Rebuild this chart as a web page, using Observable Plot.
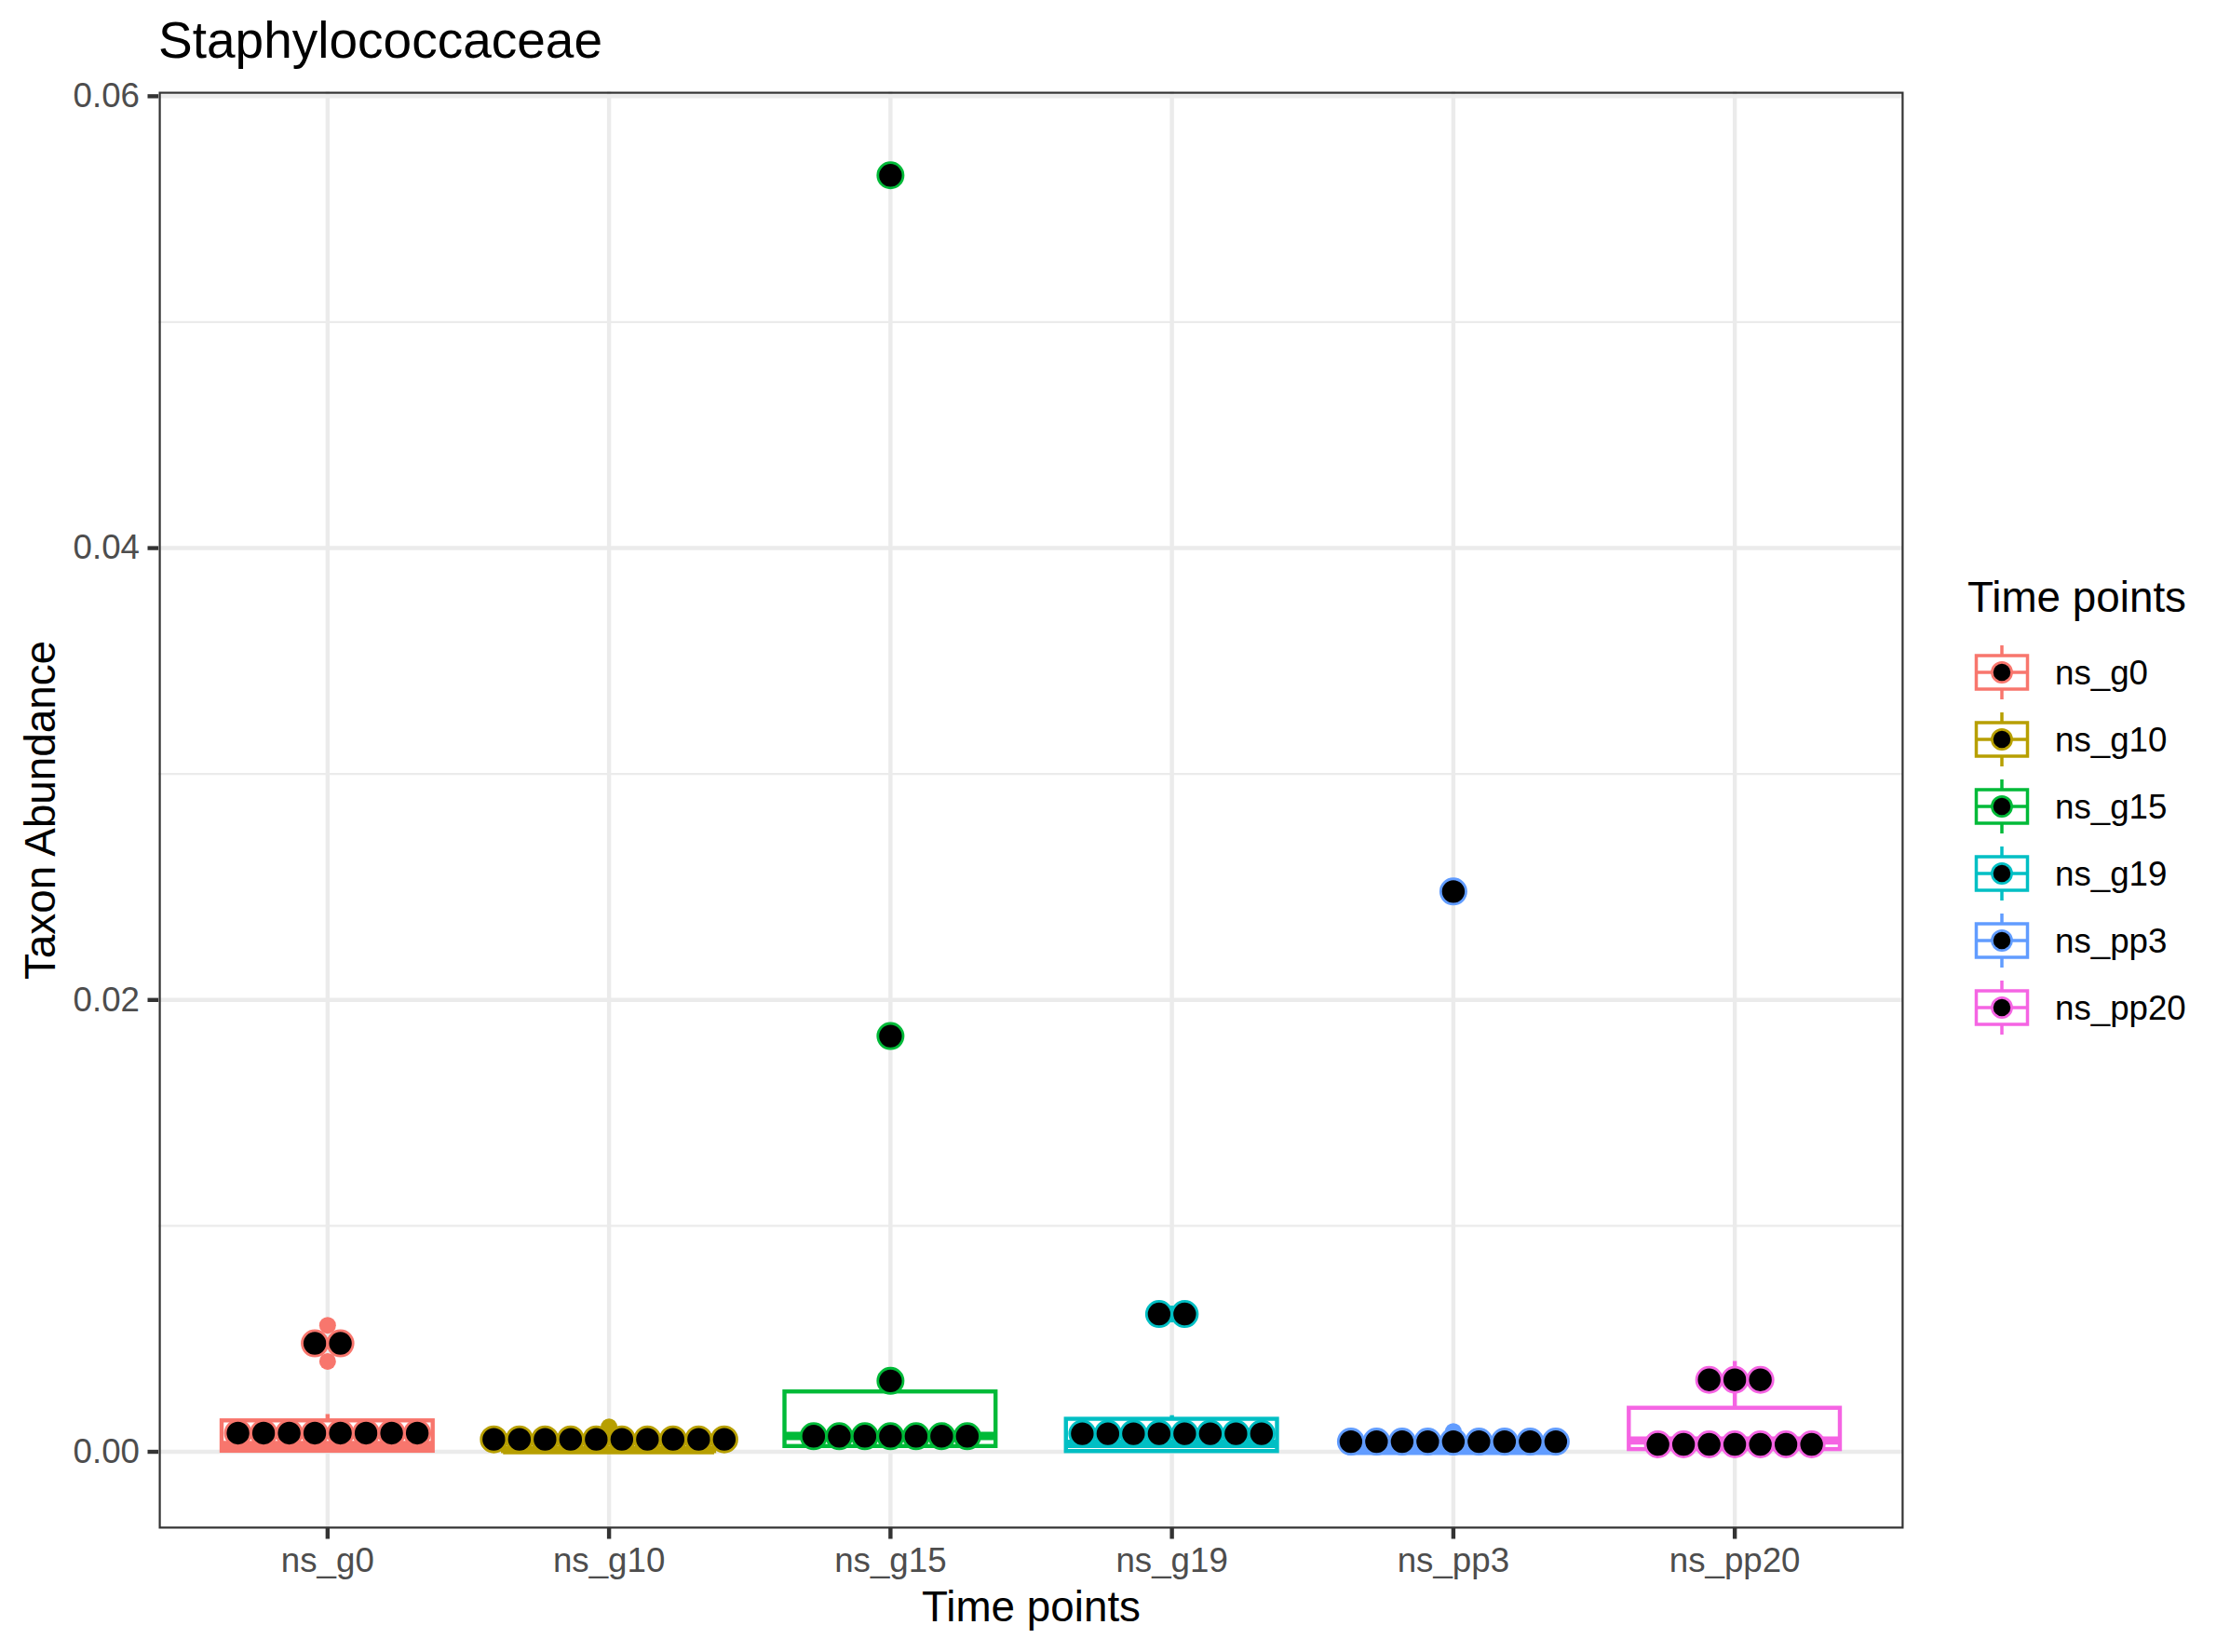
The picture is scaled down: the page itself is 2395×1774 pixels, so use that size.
<!DOCTYPE html>
<html><head><meta charset="utf-8">
<script src="https://cdn.jsdelivr.net/npm/d3@7"></script>
<script src="https://cdn.jsdelivr.net/npm/@observablehq/plot@0.6"></script>
<style>
html,body{margin:0;padding:0;background:#fff;}
#wrap{position:relative;width:2395px;height:1774px;font-family:"Liberation Sans",Arial,Helvetica,sans-serif;background:#fff;overflow:hidden;}
#plot{position:absolute;left:0;top:0;}
#title{position:absolute;left:170px;top:16px;font-size:55px;line-height:1;color:#000;white-space:nowrap;}
#legend{position:absolute;left:2100px;top:560px;}
</style></head><body>
<div id="wrap"><div id="plot"></div><div id="title"></div><div id="legend"></div></div>
<script>
// ---- data ----
const categories = ["ns_g0", "ns_g10", "ns_g15", "ns_g19", "ns_pp3", "ns_pp20"];
const colors = ["#F8766D", "#B79F00", "#00BA38", "#00BFC4", "#619CFF", "#F564E3"];
const ns_g0   = [0, 0, 0.00002, 0.00005, 0.0002, 0.0004, 0.00053, 0.00165, 0.0040, 0.0056];
const ns_g10  = [0, 0, 0.00001, 0.00002, 0.00005, 0.0001, 0.0002, 0.0004, 0.0006, 0.0011];
const ns_g15  = [0.0002, 0.00022, 0.00023, 0.00025, 0.0006, 0.0008, 0.00118, 0.00314, 0.0184, 0.0565];
const ns_g19  = [0, 0, 0.00001, 0.00002, 0.0002, 0.0005, 0.00096, 0.0016, 0.0061, 0.0061];
const ns_pp3  = [0, 0, 0.00001, 0.00002, 0.00003, 0.00005, 0.0001, 0.0003, 0.0009, 0.0248];
const ns_pp20 = [0.00006, 0.00008, 0.0001, 0.0001, 0.00045, 0.00055, 0.0006, 0.00237, 0.0032, 0.0040];
const seriesValues = [ns_g0, ns_g10, ns_g15, ns_g19, ns_pp3, ns_pp20];
const yTicks = [0, 0.02, 0.04, 0.06];
const yMinorTicks = [0.01, 0.03, 0.05];
const titleText = "Staphylococcaceae";
const xTitle = "Time points";
const yTitle = "Taxon Abundance";
const legendTitle = "Time points";

// ---- layout ----
const W = 2090, H = 1774, ML = 170, MR = 46, MT = 98, MB = 133;
const pxPerUnit = (W - ML - MR) / 6.2;
const boxHalf = 0.375;
const dotSpacing = 27.5 / pxPerUnit;

// ---- boxplot statistics ----
const sortedSeries = seriesValues.map(v => v.slice().sort(d3.ascending));
const stats = categories.map((g, i) => {
  const v = sortedSeries[i];
  const q1 = d3.quantileSorted(v, 0.25), med = d3.quantileSorted(v, 0.5), q3 = d3.quantileSorted(v, 0.75);
  const iqr = q3 - q1;
  const inside = v.filter(d => d >= q1 - 1.5 * iqr && d <= q3 + 1.5 * iqr);
  return {group: g, i, q1, med, q3, lo: d3.min(inside), hi: d3.max(inside), lf: q1 - 1.5 * iqr, hf: q3 + 1.5 * iqr};
});
const outliers = [];
categories.forEach((g, i) => {
  const s = stats[i];
  sortedSeries[i].forEach(value => { if (value < s.lf || value > s.hf) outliers.push({group: g, i, value}); });
});

// ---- dot-density binning (ggplot geom_dotplot style) ----
const allVals = seriesValues.flat();
const binwidth = (d3.max(allVals) - d3.min(allVals)) / 30;
const dots = [];
categories.forEach((g, i) => {
  const v = sortedSeries[i];
  let j = 0;
  while (j < v.length) {
    const start = v[j];
    let k = j;
    while (k < v.length && v[k] <= start + binwidth + 1e-12) k++;
    const bin = v.slice(j, k);
    const center = (bin[0] + bin[bin.length - 1]) / 2;
    bin.forEach((_, m) => dots.push({group: g, i, y: center, x: i + (m - (bin.length - 1) / 2) * dotSpacing}));
    j = k;
  }
});

const font = '"Liberation Sans", Arial, Helvetica, sans-serif';
const plot = Plot.plot({
  width: W, height: H,
  marginLeft: ML, marginRight: MR, marginTop: MT, marginBottom: MB,
  style: {fontFamily: font, background: "transparent", overflow: "visible"},
  x: {type: "linear", domain: [-0.6, categories.length - 0.4]},
  y: {type: "linear", domain: [-0.0034, 0.0602]},
  color: {type: "ordinal", domain: categories, range: colors},
  marks: [
    Plot.gridY(yMinorTicks, {stroke: "#ebebeb", strokeOpacity: 1, strokeWidth: 2.2}),
    Plot.gridY(yTicks, {stroke: "#ebebeb", strokeOpacity: 1, strokeWidth: 4.4}),
    Plot.gridX(d3.range(categories.length), {stroke: "#ebebeb", strokeOpacity: 1, strokeWidth: 4.4}),
    Plot.ruleX(stats, {x: "i", y1: "q3", y2: "hi", stroke: "group", strokeWidth: 4.4}),
    Plot.ruleX(stats, {x: "i", y1: "lo", y2: "q1", stroke: "group", strokeWidth: 4.4}),
    Plot.rect(stats, {x1: d => d.i - boxHalf, x2: d => d.i + boxHalf, y1: "q1", y2: "q3", fill: "white", stroke: "group", strokeWidth: 4.4}),
    Plot.ruleY(stats, {y: "med", x1: d => d.i - boxHalf, x2: d => d.i + boxHalf, stroke: "group", strokeWidth: 8.9}),
    Plot.dot(outliers, {x: "i", y: "value", fill: "group", r: 9}),
    Plot.dot(dots, {x: "x", y: "y", fill: "black", stroke: "group", strokeWidth: 2.8, r: 13.6}),
    Plot.frame({stroke: "#333333", strokeWidth: 2.2, inset: 1.1}),
    Plot.axisY(yTicks, {tickFormat: d3.format(".2f"), fontSize: 36.7, fill: "#4d4d4d", stroke: "#333333", strokeWidth: 4.4, tickSize: 11.5, tickPadding: 9, label: null}),
    Plot.axisX(d3.range(categories.length), {tickFormat: i => categories[i], fontSize: 36.7, fill: "#4d4d4d", stroke: "#333333", strokeWidth: 4.4, tickSize: 11.5, tickPadding: 9.2, label: null}),
    Plot.axisX([], {label: xTitle, labelAnchor: "center", labelArrow: false, labelOffset: 99, fontSize: 45.8, fill: "black", tickSize: 0}),
    Plot.axisY([], {label: yTitle, labelAnchor: "center", labelArrow: false, labelOffset: 144, fontSize: 45.8, fill: "black", tickSize: 0})
  ]
});
document.getElementById("plot").appendChild(plot);
document.getElementById("title").textContent = titleText;

// ---- legend ----
const color = plot.scale("color");
const rowH = 72, firstRow = 162, keyX = 50;
const lsvg = d3.select("#legend").append("svg")
  .attr("width", 295).attr("height", 600)
  .style("font-family", font);
lsvg.append("text").attr("x", 13).attr("y", 97).attr("font-size", 45.8).attr("fill", "#000").text(legendTitle);
categories.forEach((g, k) => {
  const cy = firstRow + k * rowH;
  const c = color.apply(g);
  const gk = lsvg.append("g");
  gk.append("line").attr("x1", keyX).attr("x2", keyX).attr("y1", cy - 29).attr("y2", cy + 29).attr("stroke", c).attr("stroke-width", 3.5);
  gk.append("rect").attr("x", keyX - 27.5).attr("y", cy - 18).attr("width", 55).attr("height", 36).attr("fill", "white").attr("stroke", c).attr("stroke-width", 3.5);
  gk.append("line").attr("x1", keyX - 27.5).attr("x2", keyX + 27.5).attr("y1", cy).attr("y2", cy).attr("stroke", c).attr("stroke-width", 3.5);
  gk.append("circle").attr("cx", keyX).attr("cy", cy).attr("r", 10.6).attr("fill", "black").attr("stroke", c).attr("stroke-width", 2.7);
  lsvg.append("text").attr("x", 107).attr("y", cy + 13).attr("font-size", 36.7).attr("fill", "#000").text(g);
});
</script>
</body></html>
